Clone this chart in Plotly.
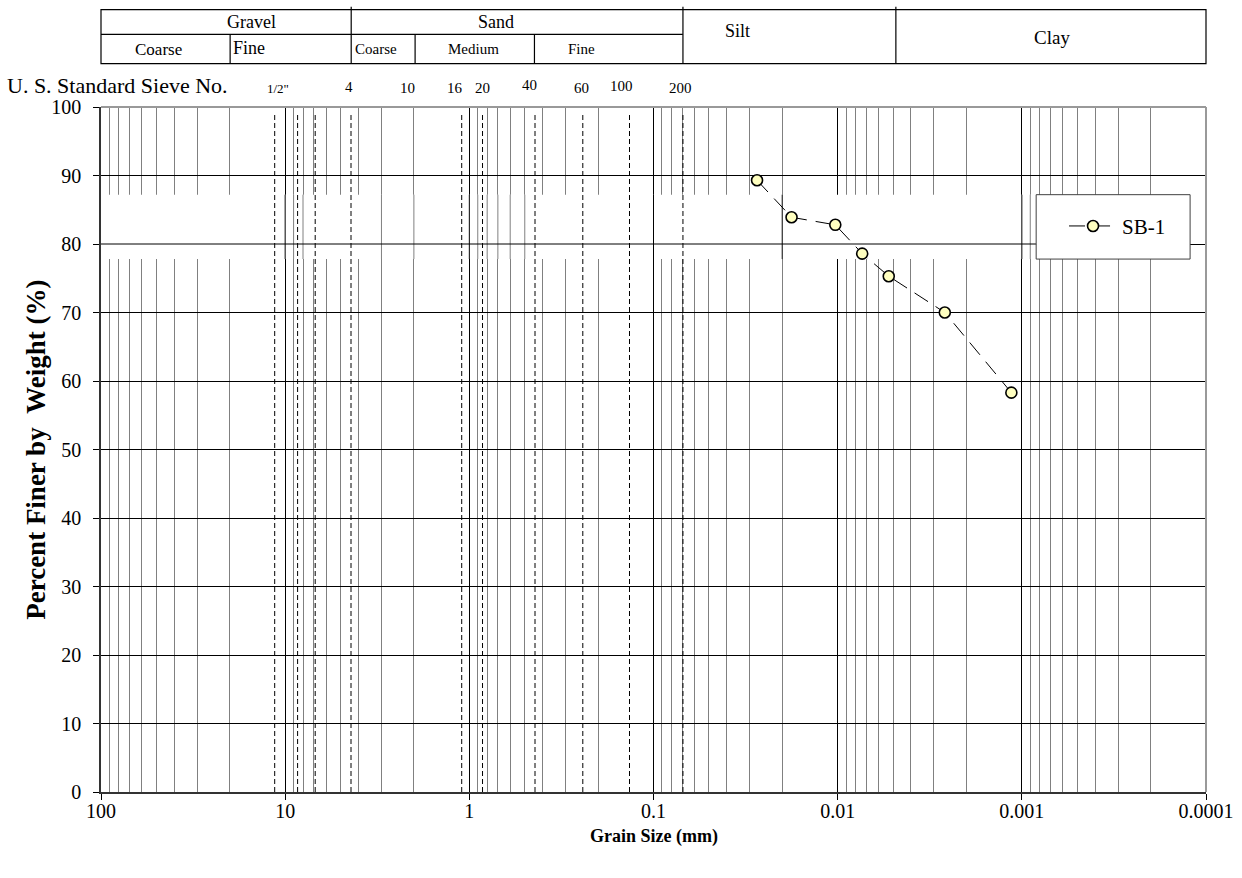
import numpy as np
import plotly.graph_objects as go

# ---------------- data ----------------
series_name = "SB-1"
grain_size_mm = [0.0274, 0.0178, 0.0103, 0.00736, 0.00528, 0.00262, 0.00114]
percent_finer = [89.3, 83.9, 82.8, 78.6, 75.3, 70.0, 58.3]

x_tick_vals = [100, 10, 1, 0.1, 0.01, 0.001, 0.0001]
x_tick_text = ["100", "10", "1", "0.1", "0.01", "0.001", "0.0001"]
y_tick_vals = [0, 10, 20, 30, 40, 50, 60, 70, 80, 90, 100]

sieve_labels = ['1/2"', "4", "10", "16", "20", "40", "60", "100", "200"]
sieve_label_mm = [11.0, 4.49, 2.16, 1.19, 0.851, 0.473, 0.247, 0.150, 0.0716]
sieve_line_mm = [11.4, 8.56, 6.87, 4.39, 1.10, 0.848, 0.440, 0.242, 0.135, 0.0692]

# soil classification table
table_major = ["Gravel", "Sand", "Silt", "Clay"]
table_minor = ["Coarse", "Fine", "Coarse", "Medium", "Fine"]
table_full_bounds_mm = [4.38, 0.0692, 0.00483]      # Gravel|Sand, Sand|Silt, Silt|Clay
table_half_bounds_mm = [19.9, 1.97, 0.443]          # sub-divisions (lower row only)

# ---------------- styling / layout ----------------
FONT = "Liberation Serif"
W, H = 1242, 878
L, R, T, B = 100.7, 36, 106.7, 86.3
PW, PH = W - L - R, H - T - B


def px_to_paper_x(px):
    return (px - L) / PW


def px_to_paper_y(py):
    return (H - B - py) / PH


fig = go.Figure()

fig.add_trace(go.Scatter(
    x=grain_size_mm, y=percent_finer, name=series_name,
    mode="lines+markers",
    line=dict(color="black", width=1, dash="16px,9px"),
    marker=dict(symbol="circle", size=11, color="#FFFFC0",
                line=dict(color="black", width=1.6)),
))

shapes = []
# white band that hides part of the grid (axis-referenced so it sits above the grid)
band_y = (77.8, 87.2)
legend_x_mm = (0.000836, 0.000122)
shapes.append(dict(type="rect", xref="x", yref="y", layer="between",
                   x0=100, x1=legend_x_mm[0], y0=band_y[0], y1=band_y[1],
                   fillcolor="white", line=dict(width=0)))
# grid lines that are drawn over the band
band_major = [10, 1, 0.1, 0.001, 0.02]
band_minor = [9, 8, 3, 2, 0.9, 0.8, 0.7, 0.6, 0.5, 0.0009]
for v in band_major:
    shapes.append(dict(type="line", xref="x", yref="y", layer="between",
                       x0=v, x1=v, y0=band_y[0], y1=band_y[1],
                       line=dict(color="black", width=1)))
for v in band_minor:
    shapes.append(dict(type="line", xref="x", yref="y", layer="between",
                       x0=v, x1=v, y0=band_y[0], y1=band_y[1],
                       line=dict(color="#808080", width=1)))
shapes.append(dict(type="line", xref="x", yref="y", layer="between",
                   x0=100, x1=legend_x_mm[0], y0=80, y1=80,
                   line=dict(color="black", width=1)))
# sieve dashed lines
for v in sieve_line_mm:
    shapes.append(dict(type="line", xref="x", yref="y", layer="between",
                       x0=v, x1=v, y0=0, y1=99,
                       line=dict(color="black", width=1, dash="5px,3px")))
# legend box
shapes.append(dict(type="rect", xref="x", yref="y", layer="between",
                   x0=legend_x_mm[0], x1=legend_x_mm[1],
                   y0=band_y[0], y1=band_y[1],
                   fillcolor="white", line=dict(color="#404040", width=1)))
# gray top / right frame
shapes.append(dict(type="line", xref="paper", yref="paper", x0=0, x1=1, y0=1, y1=1,
                   line=dict(color="#999999", width=2)))
shapes.append(dict(type="line", xref="paper", yref="paper", x0=1, x1=1, y0=0, y1=1,
                   line=dict(color="#999999", width=2)))

# classification table
ty_top, ty_mid, ty_bot = px_to_paper_y(9.3), px_to_paper_y(34), px_to_paper_y(63.3)
tline = dict(color="black", width=1.2)
shapes.append(dict(type="rect", xref="paper", yref="paper", x0=0, x1=1,
                   y0=ty_bot, y1=ty_top, line=tline))
shapes.append(dict(type="line", xref="paper", yref="paper",
                   x0=0, x1=px_to_paper_x(682.7), y0=ty_mid, y1=ty_mid, line=tline))
for v in table_full_bounds_mm:
    shapes.append(dict(type="line", xref="x", yref="paper", x0=v, x1=v,
                       y0=ty_bot, y1=px_to_paper_y(6.5), line=tline))
for v in table_half_bounds_mm:
    shapes.append(dict(type="line", xref="x", yref="paper", x0=v, x1=v,
                       y0=ty_bot, y1=ty_mid, line=tline))

annotations = []


def txt(text, xp, yp, size, bold=False, xref="paper", xanchor="center", angle=0):
    annotations.append(dict(
        text=f"<b>{text}</b>" if bold else text, x=xp, y=yp, xref=xref, yref="paper",
        xanchor=xanchor, yanchor="middle", showarrow=False, textangle=angle,
        font=dict(family=FONT, size=size, color="black")))


major_pos = [(251, 21.5, 18), (496, 21.5, 18), (737, 31, 18), (1052, 37, 19)]
for label, (px, py, sz) in zip(table_major, major_pos):
    txt(label, px_to_paper_x(px), px_to_paper_y(py), sz)
minor_pos = [(158, 49.5, 17), (249, 48, 18), (376, 48.5, 15), (473, 48.5, 15), (581, 48.5, 15)]
for label, (px, py, sz) in zip(table_minor, minor_pos):
    txt(label, px_to_paper_x(px), px_to_paper_y(py), sz)

txt("U. S. Standard Sieve No.", px_to_paper_x(5), px_to_paper_y(85.5), 22, xanchor="left")
sieve_y = [88, 87, 87.5, 87.5, 87.5, 84.5, 87.5, 85.5, 87.5]
for label, mm, py in zip(sieve_labels, sieve_label_mm, sieve_y):
    txt(label, float(np.log10(mm)), px_to_paper_y(py), 13 if '"' in label else 15, xref="x")

txt("Grain Size (mm)", 0.5, px_to_paper_y(836), 18, bold=True)
txt("Percent Finer by \u00a0Weight (%)", px_to_paper_x(35), 0.5, 27, bold=True, angle=-90)

fig.update_layout(
    width=W, height=H,
    margin=dict(l=L, r=R, t=T, b=B, pad=0, autoexpand=False),
    paper_bgcolor="white", plot_bgcolor="white",
    font=dict(family=FONT, color="black"),
    shapes=shapes, annotations=annotations,
    showlegend=True,
    legend=dict(x=px_to_paper_x(1064), y=px_to_paper_y(226), xanchor="left", yanchor="middle",
                bgcolor="rgba(0,0,0,0)", borderwidth=0,
                font=dict(family=FONT, size=21, color="black"), itemwidth=48),
)

fig.update_xaxes(
    type="log", range=[2, -4], tickvals=x_tick_vals, ticktext=x_tick_text,
    showgrid=True, gridcolor="black", gridwidth=1,
    ticks="outside", ticklen=6, tickcolor="black",
    showline=True, linecolor="#333333", linewidth=1.5, zeroline=False,
    tickfont=dict(family=FONT, size=20, color="black"), ticklabelstandoff=-6,
    minor=dict(dtick="D1", showgrid=True, gridcolor="#808080", gridwidth=1, ticks=""),
)
fig.update_yaxes(
    range=[0, 100], tickvals=y_tick_vals,
    showgrid=True, gridcolor="black", gridwidth=1,
    ticks="outside", ticklen=6, tickcolor="black",
    showline=True, linecolor="#333333", linewidth=1.5, zeroline=False,
    tickfont=dict(family=FONT, size=20, color="black"), ticklabelstandoff=8,
)

fig.write_html("out.html", config={"displayModeBar": False},
               post_script="document.body.style.margin='0px';")
